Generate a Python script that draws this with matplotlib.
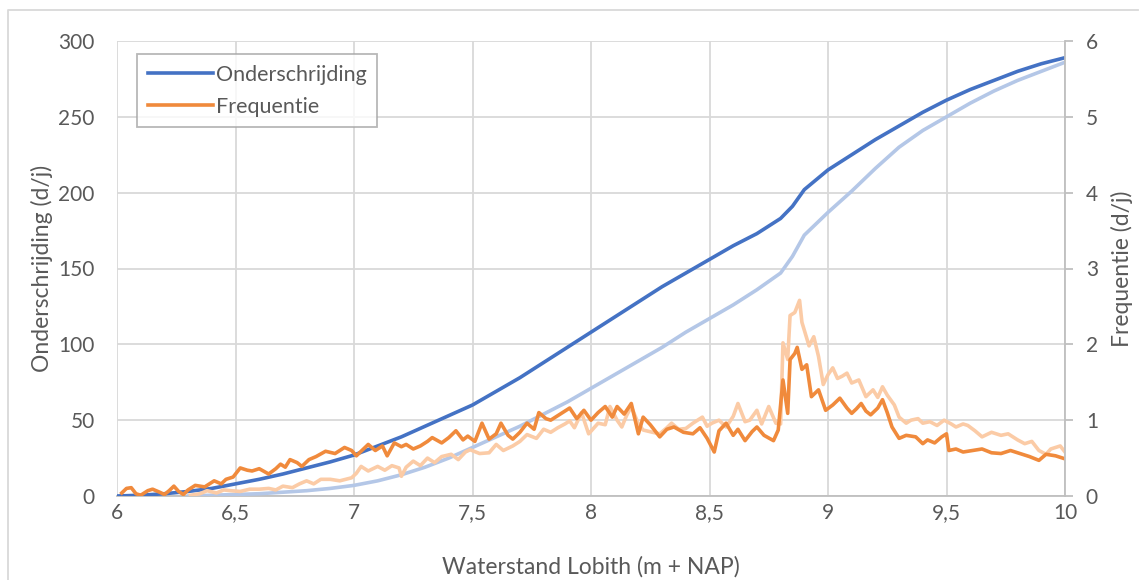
import matplotlib.pyplot as plt
from matplotlib.lines import Line2D

# Onderschrijding (d/j), linker as
x_ond = [6.0, 6.1, 6.2, 6.3, 6.4, 6.5, 6.6, 6.7, 6.8, 6.9, 7.0, 7.1, 7.2, 7.3, 7.4, 7.5,
         7.6, 7.7, 7.8, 7.9, 8.0, 8.1, 8.2, 8.3, 8.4, 8.5, 8.6, 8.7, 8.8, 8.85, 8.9,
         9.0, 9.1, 9.2, 9.3, 9.4, 9.5, 9.6, 9.7, 9.8, 9.9, 10.0]
ond = [0, 0.5, 1.5, 3, 5, 8, 11, 14.5, 18.5, 22.5, 27, 33, 39, 46, 53, 60,
       69, 78, 88, 98, 108, 118, 128, 138, 147, 156, 165, 173, 183, 191, 202,
       215, 225, 235, 244, 253, 261, 268, 274, 280, 285, 289]

x_ond2 = [6.3, 6.4, 6.5, 6.6, 6.7, 6.8, 6.9, 7.0, 7.1, 7.2, 7.3, 7.4, 7.5, 7.6, 7.7,
          7.8, 7.9, 8.0, 8.1, 8.2, 8.3, 8.4, 8.5, 8.6, 8.7, 8.8, 8.85, 8.9, 9.0,
          9.1, 9.2, 9.3, 9.4, 9.5, 9.6, 9.7, 9.8, 9.9, 10.0]
ond2 = [0, 0.5, 1, 1.5, 2.5, 3.5, 5, 7, 10, 14, 19, 25, 32, 39, 46,
        54, 62, 71, 80, 89, 98, 108, 117, 126, 136, 147, 158, 172, 187,
        201, 216, 230, 241, 250, 259, 267, 274, 280, 286]

# Frequentie (d/j), rechter as
x_freq = [6.02, 6.04, 6.06, 6.08, 6.1, 6.13, 6.15, 6.18, 6.2, 6.22, 6.24, 6.26, 6.28, 6.3,
          6.33, 6.37, 6.41, 6.44, 6.46, 6.49, 6.52, 6.55, 6.57, 6.6, 6.64, 6.67, 6.69,
          6.71, 6.73, 6.76, 6.78, 6.81, 6.84, 6.88, 6.92, 6.96, 6.99, 7.01, 7.04, 7.06,
          7.09, 7.12, 7.14, 7.17, 7.2, 7.22, 7.25, 7.28, 7.31, 7.33, 7.37, 7.4, 7.43,
          7.46, 7.48, 7.51, 7.54, 7.57, 7.6, 7.62, 7.65, 7.67, 7.7, 7.73, 7.76, 7.78,
          7.81, 7.83, 7.87, 7.91, 7.94, 7.97, 8.0, 8.03, 8.06, 8.09, 8.11, 8.14, 8.17,
          8.2, 8.22, 8.25, 8.29, 8.32, 8.35, 8.39, 8.43, 8.46, 8.49, 8.52, 8.54, 8.57,
          8.6, 8.62, 8.65, 8.68, 8.7, 8.73, 8.77, 8.79, 8.81, 8.83, 8.84, 8.86, 8.87,
          8.89, 8.91, 8.93, 8.96, 8.99, 9.02, 9.05, 9.08, 9.1, 9.12, 9.14, 9.16, 9.18,
          9.21, 9.23, 9.25, 9.27, 9.3, 9.33, 9.37, 9.4, 9.42, 9.45, 9.48, 9.5, 9.51,
          9.54, 9.57, 9.61, 9.65, 9.69, 9.73, 9.77, 9.81, 9.85, 9.89, 9.92, 9.96, 10.0]
freq = [0.04, 0.1, 0.11, 0.03, 0.01, 0.07, 0.09, 0.05, 0.02, 0.07, 0.13, 0.06, 0.02, 0.08,
        0.14, 0.12, 0.2, 0.16, 0.22, 0.25, 0.37, 0.34, 0.33, 0.36, 0.29, 0.36, 0.42,
        0.38, 0.48, 0.44, 0.39, 0.48, 0.52, 0.59, 0.56, 0.64, 0.6, 0.53, 0.62, 0.68,
        0.6, 0.66, 0.53, 0.7, 0.65, 0.68, 0.62, 0.66, 0.72, 0.77, 0.7, 0.77, 0.86,
        0.74, 0.79, 0.72, 0.96, 0.75, 0.82, 0.96, 0.8, 0.75, 0.84, 0.96, 0.88, 1.1,
        1.02, 1.0, 1.08, 1.16, 1.02, 1.13, 1.0, 1.1, 1.18, 1.04, 1.18, 1.08, 1.22,
        0.82, 1.04, 0.94, 0.78, 0.88, 0.91, 0.84, 0.82, 0.9, 0.76, 0.58, 0.86, 0.96,
        0.8, 0.88, 0.73, 0.85, 0.91, 0.8, 0.73, 0.87, 1.53, 1.09, 1.8, 1.88, 1.96,
        1.67, 1.73, 1.31, 1.4, 1.13, 1.2, 1.29, 1.16, 1.09, 1.15, 1.22, 1.12, 1.07,
        1.16, 1.27, 1.1, 0.91, 0.76, 0.8, 0.78, 0.69, 0.74, 0.7, 0.78, 0.82, 0.6,
        0.62, 0.58, 0.6, 0.62, 0.57, 0.56, 0.6, 0.56, 0.52, 0.47, 0.55, 0.53, 0.49]

x_freq2 = [6.31, 6.35, 6.38, 6.42, 6.45, 6.48, 6.52, 6.56, 6.6, 6.64, 6.67, 6.7, 6.74, 6.77,
           6.8, 6.83, 6.86, 6.9, 6.94, 6.99, 7.01, 7.03, 7.06, 7.1, 7.13, 7.16, 7.19, 7.2,
           7.22, 7.25, 7.28, 7.31, 7.34, 7.37, 7.41, 7.44, 7.47, 7.49, 7.53, 7.57, 7.6,
           7.63, 7.67, 7.7, 7.73, 7.77, 7.8, 7.83, 7.86, 7.89, 7.91, 7.93, 7.96, 7.99,
           8.03, 8.06, 8.08, 8.11, 8.13, 8.15, 8.17, 8.2, 8.22, 8.26, 8.29, 8.32, 8.34,
           8.37, 8.4, 8.43, 8.47, 8.49, 8.51, 8.54, 8.57, 8.6, 8.62, 8.65, 8.67, 8.7,
           8.72, 8.75, 8.78, 8.8, 8.81, 8.83, 8.84, 8.86, 8.88, 8.89, 8.92, 8.94, 8.96,
           8.98, 9.0, 9.02, 9.04, 9.06, 9.08, 9.1, 9.13, 9.16, 9.19, 9.21, 9.23, 9.25,
           9.28, 9.3, 9.33, 9.35, 9.38, 9.4, 9.43, 9.46, 9.49, 9.52, 9.54, 9.57, 9.59,
           9.62, 9.65, 9.69, 9.73, 9.76, 9.8, 9.83, 9.86, 9.89, 9.92, 9.94, 9.96, 9.98, 10.0]
freq2 = [0.01, 0.03, 0.07, 0.04, 0.08, 0.07, 0.06, 0.09, 0.09, 0.1, 0.08, 0.13, 0.11, 0.16,
         0.2, 0.16, 0.22, 0.22, 0.2, 0.24, 0.3, 0.39, 0.33, 0.39, 0.34, 0.4, 0.37, 0.26,
         0.38, 0.46, 0.4, 0.5, 0.44, 0.52, 0.55, 0.48, 0.58, 0.61, 0.56, 0.57, 0.68,
         0.6, 0.66, 0.72, 0.81, 0.76, 0.88, 0.84, 0.9, 0.95, 0.99, 0.9, 1.1, 0.82,
         0.96, 0.94, 1.18, 1.0, 0.91, 1.06, 1.18, 0.95, 0.87, 0.84, 0.82, 0.9, 0.96,
         0.88, 0.89, 0.96, 1.04, 0.92, 0.96, 1.0, 0.91, 1.05, 1.22, 0.98, 1.0, 1.13,
         0.95, 1.18, 0.96, 0.95, 2.02, 1.8, 2.38, 2.42, 2.58, 2.29, 1.98, 2.1, 1.84,
         1.47, 1.6, 1.69, 1.55, 1.58, 1.62, 1.49, 1.53, 1.31, 1.4, 1.3, 1.44, 1.33,
         1.2, 1.04, 0.96, 1.0, 1.02, 0.96, 0.98, 0.93, 1.0, 0.95, 0.91, 0.95, 0.93,
         0.86, 0.78, 0.84, 0.8, 0.82, 0.74, 0.69, 0.72, 0.6, 0.55, 0.62, 0.64, 0.66, 0.58]

xticks = [6, 6.5, 7, 7.5, 8, 8.5, 9, 9.5, 10]
xlabels = ['6', '6,5', '7', '7,5', '8', '8,5', '9', '9,5', '10']

txt = '#595959'
plt.rcParams['font.family'] = ['Lato', 'DejaVu Sans']

fig = plt.figure(figsize=(11.39, 5.8), dpi=100)
ax = fig.add_axes([117 / 1139, 1 - 496 / 580, (1065 - 117) / 1139, (496 - 41) / 580])
ax2 = ax.twinx()

ax.plot(x_ond2, ond2, color='#b4c7e7', lw=2.6, zorder=3)
ax.plot(x_ond, ond, color='#4472c4', lw=2.6, zorder=4)
ax2.plot(x_freq2, freq2, color='#fbcba6', lw=2.6)
ax2.plot(x_freq, freq, color='#f08a3c', lw=2.6)

ax.set_xlim(6, 10)
ax.set_ylim(0, 300)
ax2.set_ylim(0, 6)
ax.set_xticks(xticks, xlabels)
ax.set_yticks(range(0, 301, 50))
ax2.set_yticks(range(0, 7))
ax.grid(True, color='#d9d9d9', lw=1.3)
ax.set_axisbelow(True)

for a in (ax, ax2):
    for s in a.spines.values():
        s.set_visible(False)
ax.spines['bottom'].set_visible(True)
ax.spines['bottom'].set_color('#bfbfbf')
ax.spines['bottom'].set_linewidth(1.3)
ax2.spines['right'].set_visible(True)
ax2.spines['right'].set_color('#bfbfbf')
ax2.spines['right'].set_linewidth(1.3)

ax.tick_params(axis='x', length=0, pad=5, labelsize=15, colors=txt)
ax.tick_params(axis='y', length=0, pad=16, labelsize=15, colors=txt)
ax2.tick_params(axis='y', length=6, width=1.3, color='#bfbfbf', pad=9, labelsize=15, labelcolor=txt)

ax.set_xlabel('Waterstand Lobith (m + NAP)', fontsize=16.5, color=txt, labelpad=24)
ax.set_ylabel('Onderschrijding (d/j)', fontsize=16.5, color=txt, labelpad=4)
ax2.set_ylabel('Frequentie (d/j)', fontsize=16.5, color=txt, labelpad=9)

handles = [Line2D([], [], color='#4472c4', lw=2.6), Line2D([], [], color='#f08a3c', lw=2.6)]
leg = ax2.legend(handles, ['Onderschrijding', 'Frequentie'], loc='upper left',
                 bbox_to_anchor=(0.01, 0.995), fontsize=15.5, frameon=True, fancybox=False,
                 edgecolor='#a6a6a6', handlelength=3.0, handletextpad=0.15,
                 labelspacing=0.55, borderpad=0.5, labelcolor=txt)
leg.get_frame().set_linewidth(1.3)

# rand om de hele grafiek
fig.add_artist(Line2D([8 / 1139, 8 / 1139, 1138 / 1139], [0, 1 - 10 / 580, 1 - 10 / 580],
                      color='#d9d9d9', lw=1.3))

fig.savefig('out.png', dpi=100)
